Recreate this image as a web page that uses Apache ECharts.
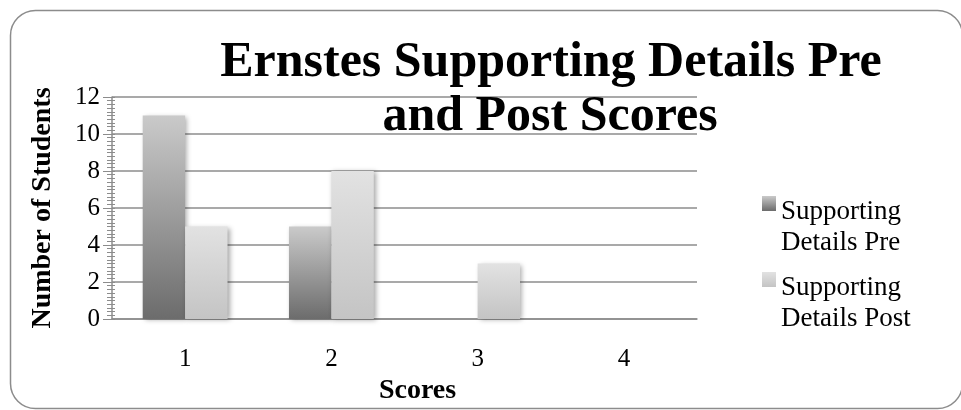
<!DOCTYPE html>
<html>
<head>
<meta charset="utf-8">
<script src="https://cdn.jsdelivr.net/npm/echarts@6/dist/echarts.min.js"></script>
<style>
  html, body { margin: 0; padding: 0; background: #fff; }
  #chart { width: 961px; height: 410px; }
</style>
</head>
<body>
<div id="chart"></div>
<script>
const categories = ['1', '2', '3', '4'];
const preScores = [11, 5, 0, 0];
const postScores = [5, 8, 3, 0];
const seriesNames = ['Supporting Details Pre', 'Supporting Details Post'];
const titleLines = ['Ernstes Supporting Details Pre', 'and Post Scores'];

const serif = '"Liberation Serif", "DejaVu Serif", serif';
const axisGray = '#8c8c8c';

const chart = echarts.init(document.getElementById('chart'));

const grad = (top, bottom, stop) => new echarts.graphic.LinearGradient(0, 0, 0, 1, [
  { offset: 0, color: top },
  { offset: stop, color: bottom },
  { offset: 1, color: bottom },
]);
const preFill = grad('#cacaca', '#6c6c6c', 1);
const postFill = grad('#e2e2e2', '#c4c4c4', 1);

// legend icon: a 14x15 square sitting at the top of a 62px tall box
const legendIcon = 'path://M0,0L14,0L14,15L0,15Z M0,62L0.01,62L0,62Z';

const titleStyle = {
  fontFamily: serif,
  fontWeight: 'bold',
  fontSize: 50,
  lineHeight: 50,
  color: '#000',
};

chart.setOption({
  animation: false,
  graphic: [{
    type: 'rect',
    shape: { x: 10.5, y: 10.5, width: 952, height: 398, r: 25 },
    style: { fill: 'none', stroke: axisGray, lineWidth: 1.5 },
    z: -1,
  }],
  title: [
    { text: titleLines[0], left: 551, textAlign: 'center', top: 38, padding: 0, textStyle: titleStyle },
    { text: titleLines[1], left: 550, textAlign: 'center', top: 92, padding: 0, textStyle: titleStyle },
  ],
  legend: {
    orient: 'vertical',
    left: 762,
    top: 196,
    padding: 0,
    icon: legendIcon,
    itemWidth: 14,
    itemHeight: 62,
    itemGap: 14,
    formatter: (name) => name.replace(' Details', '\nDetails'),
    textStyle: { fontFamily: serif, fontSize: 27, lineHeight: 31, color: '#000' },
    data: [
      { name: seriesNames[0], itemStyle: { color: grad('#cacaca', '#6c6c6c', 0.24) } },
      { name: seriesNames[1], itemStyle: { color: grad('#e2e2e2', '#c4c4c4', 0.24) } },
    ],
  },
  grid: { left: 112, right: 264, top: 97, bottom: 83 },
  xAxis: [{
    type: 'category',
    data: categories,
    name: 'Scores',
    nameLocation: 'middle',
    nameGap: 58,
    nameTextStyle: {
      fontFamily: serif, fontWeight: 'bold', fontSize: 28, color: '#000',
      padding: [0, 0, 0, 26],
    },
    axisLine: { lineStyle: { color: axisGray, width: 1.5 } },
    axisTick: { length: 7, lineStyle: { color: axisGray } },
    axisLabel: { fontFamily: serif, fontSize: 25, color: '#000', margin: 28 },
  }, {
    type: 'category',
    data: categories,
    position: 'bottom',
    axisLine: { show: false },
    axisTick: { alignWithLabel: true, length: 7, lineStyle: { color: axisGray } },
    axisLabel: { show: false },
  }],
  yAxis: [{
    type: 'value',
    min: 0,
    max: 12,
    interval: 2,
    name: 'Number of Students',
    nameLocation: 'middle',
    nameGap: 55,
    nameTextStyle: { fontFamily: serif, fontWeight: 'bold', fontSize: 28, color: '#000' },
    axisLine: { show: true, lineStyle: { color: axisGray, width: 1.5 } },
    axisTick: { show: true, length: 9, lineStyle: { color: axisGray } },
    minorTick: { show: true, splitNumber: 10, length: 5, lineStyle: { color: axisGray } },
    splitLine: { lineStyle: { color: axisGray, width: 1.5 } },
    axisLabel: { fontFamily: serif, fontSize: 25, color: '#000', margin: 12 },
  }, {
    type: 'value',
    min: 0,
    max: 12,
    interval: 2,
    position: 'left',
    axisLine: { show: false },
    axisTick: { show: true, inside: true, length: 3, lineStyle: { color: axisGray } },
    minorTick: { show: true, splitNumber: 10, length: 3, lineStyle: { color: axisGray } },
    splitLine: { show: false },
    axisLabel: { show: false },
  }],
  series: [
    {
      name: seriesNames[0],
      type: 'bar',
      data: preScores,
      barWidth: '29%',
      barGap: '0%',
      itemStyle: {
        color: preFill,
        shadowColor: 'rgba(0,0,0,0.35)',
        shadowBlur: 5,
        shadowOffsetX: 2,
        shadowOffsetY: 1,
      },
    },
    {
      name: seriesNames[1],
      type: 'bar',
      data: postScores,
      barWidth: '29%',
      itemStyle: {
        color: postFill,
        shadowColor: 'rgba(0,0,0,0.35)',
        shadowBlur: 5,
        shadowOffsetX: 2,
        shadowOffsetY: 1,
      },
    },
  ],
});
</script>
</body>
</html>
